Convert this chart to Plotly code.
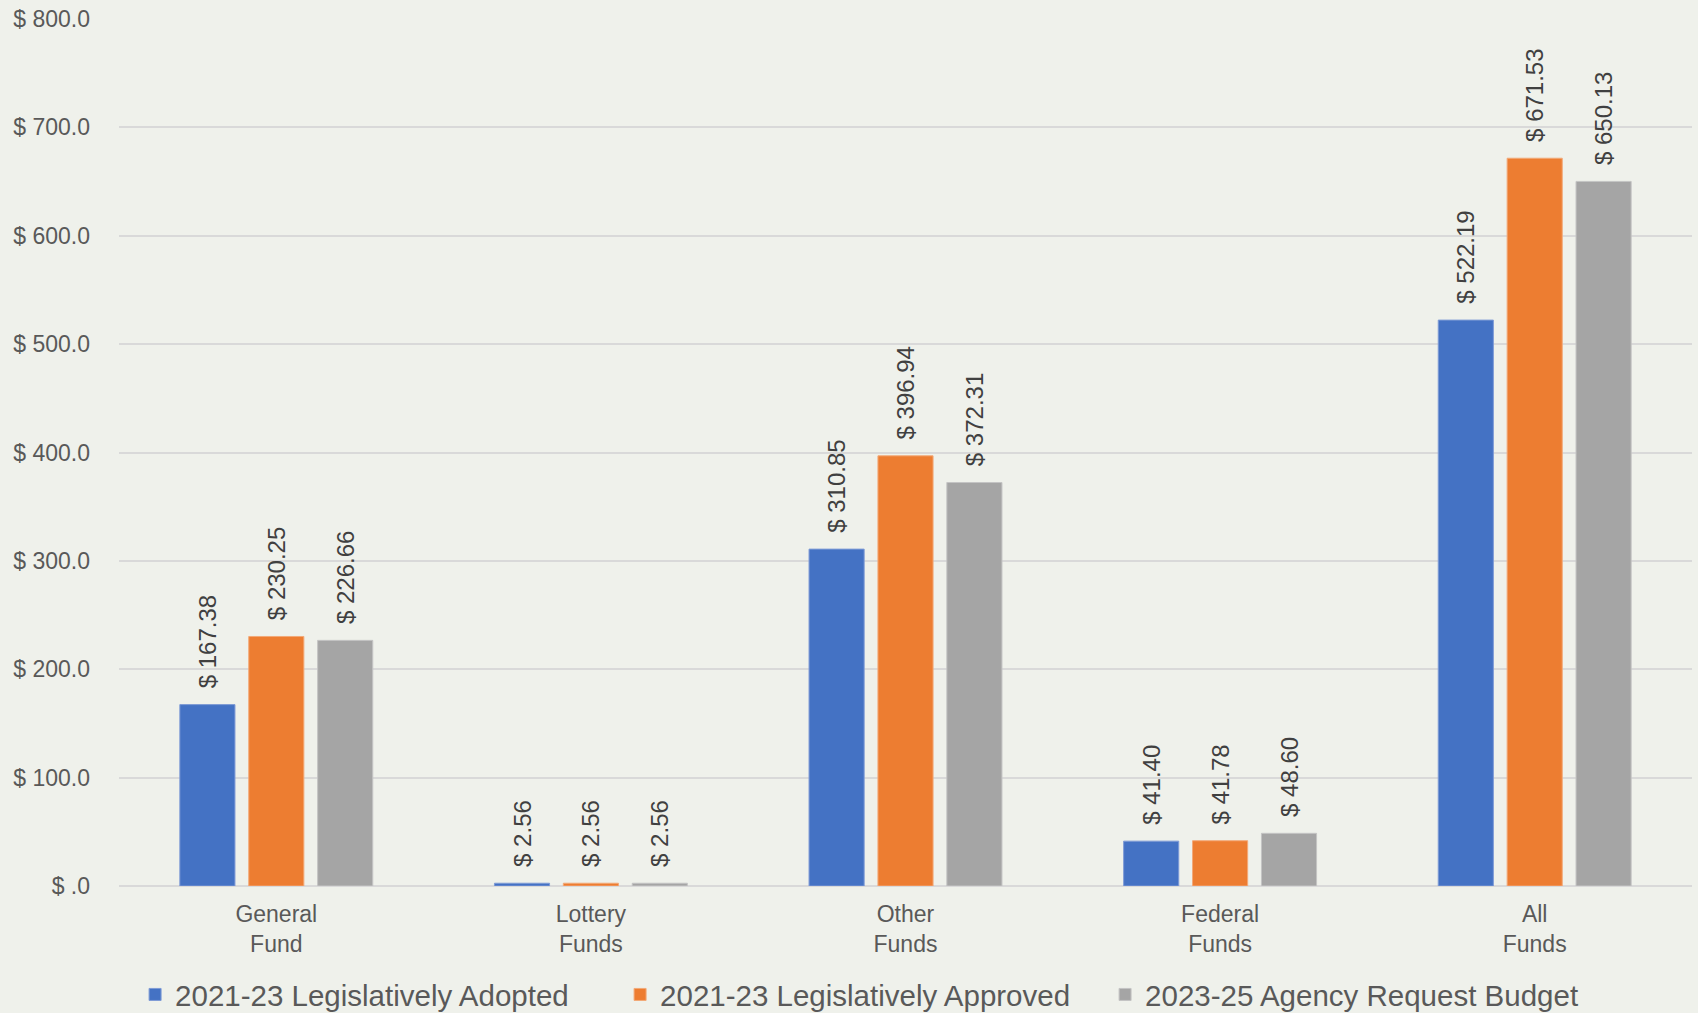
import plotly.graph_objects as go

categories = ["General<br>Fund", "Lottery<br>Funds", "Other<br>Funds", "Federal<br>Funds", "All<br>Funds"]
series_names = ["2021-23 Legislatively Adopted", "2021-23 Legislatively Approved", "2023-25 Agency Request Budget"]
adopted = [167.38, 2.56, 310.85, 41.40, 522.19]
approved = [230.25, 2.56, 396.94, 41.78, 671.53]
request = [226.66, 2.56, 372.31, 48.60, 650.13]
colors = ["#4472C4", "#ED7D31", "#A5A5A5"]
edge_colors = ["#7F9BD6", "#F3A978", "#C4C4C4"]
y_tickvals = [0, 100, 200, 300, 400, 500, 600, 700, 800]
y_ticktext = ["$ .0", "$ 100.0", "$ 200.0", "$ 300.0", "$ 400.0", "$ 500.0", "$ 600.0", "$ 700.0", "$ 800.0"]

FONT = "Liberation Sans, Arial, sans-serif"
TXT = "#595959"
BG = "#EFF1EB"

fig = go.Figure()
for name, vals, c, ec in zip(series_names, [adopted, approved, request], colors, edge_colors):
    fig.add_trace(go.Bar(
        x=categories, y=vals, name=name,
        marker=dict(color=c, line=dict(color=ec, width=1)),
        text=["\u00a0\u00a0$ %.2f" % v for v in vals],
        textposition="outside", textangle=-90, constraintext="none",
        outsidetextfont=dict(family=FONT, size=24, color="#404040"),
        cliponaxis=False,
    ))

fig.update_layout(
    width=1698, height=1013,
    paper_bgcolor=BG, plot_bgcolor=BG,
    margin=dict(l=119, r=6, t=17, b=127),
    barmode="group", bargap=0.343, bargroupgap=0.2,
    font=dict(family=FONT, color=TXT, size=23),
    showlegend=True,
    legend=dict(orientation="h", xref="container", yref="container",
                x=0.508, xanchor="center", y=0.018, yanchor="middle",
                font=dict(family=FONT, size=29.5, color=TXT),
                entrywidth=440, entrywidthmode="pixels",
                bgcolor="rgba(0,0,0,0)"),
)
fig.update_xaxes(showgrid=False, showline=False, ticks="", ticklabelstandoff=12,
                 tickfont=dict(family=FONT, size=23, color=TXT))
fig.update_yaxes(range=[0, 800], tickvals=y_tickvals, ticktext=y_ticktext,
                 showgrid=True, gridcolor="#D9D9D9", gridwidth=1.5,
                 zeroline=True, zerolinecolor="#D9D9D9", zerolinewidth=2,
                 ticks="", ticklabelstandoff=28,
                 tickfont=dict(family=FONT, size=23, color=TXT))

fig.write_html("out.html", config={"displayModeBar": False},
               post_script="document.body.style.margin='0';document.body.style.overflow='hidden';")
